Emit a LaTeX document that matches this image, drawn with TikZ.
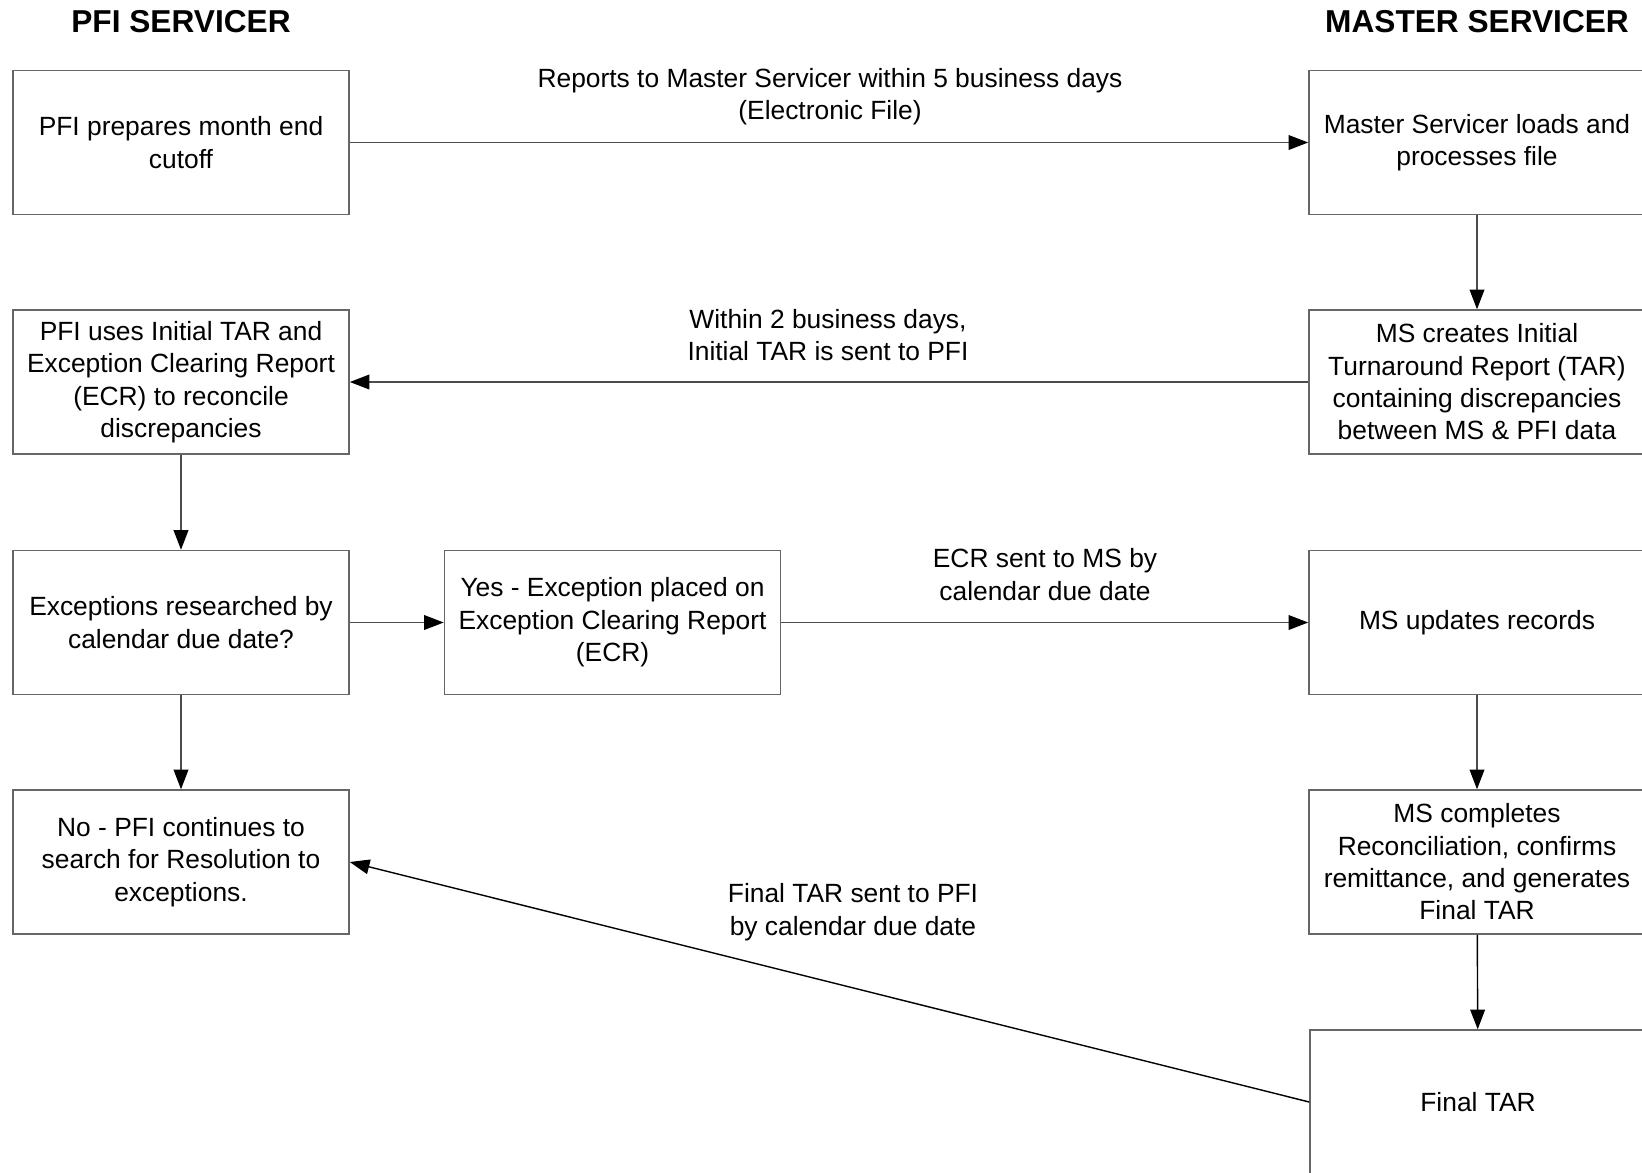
\documentclass[tikz,border=0pt]{standalone}
\usepackage{fontspec}
\setmainfont{Liberation Sans}
\usetikzlibrary{arrows.meta,positioning}

\begin{document}
\begin{tikzpicture}[x=0.01cm, y=-0.01cm,
  blk/.style={draw=black!60, line width=0.4pt, minimum width=3.36cm, minimum height=1.44cm, align=center, inner sep=0pt, font=\fontsize{7.5}{9.2}\selectfont},
  lbl/.style={align=center, font=\fontsize{7.5}{9.2}\selectfont},
  hdr/.style={font=\fontsize{9}{11}\selectfont\bfseries},
  flow/.style={-{Triangle[length=5.6pt,width=4.2pt,color=black]}, line width=0.4pt, draw=black!70}]
  \useasboundingbox (0,0) rectangle (1642,1172);
  \clip (0,0) rectangle (1642,1172);
  \node[hdr] (hpfi) at (181,22) {PFI SERVICER};
  \node[hdr] (hms) at (1477,22) {MASTER SERVICER};

  \node[blk] (p1) at (181,142.5) {PFI prepares month end\\cutoff};
  \node[blk] (p2) at (181,382) {PFI uses Initial TAR and\\Exception Clearing Report\\(ECR) to reconcile\\discrepancies};
  \node[blk] (p3) at (181,622.5) {Exceptions researched by\\calendar due date?};
  \node[blk] (p4) at (181,862) {No - PFI continues to\\search for Resolution to\\exceptions.};
  \node[blk] (yes) at (612.5,622.5) {Yes - Exception placed on\\Exception Clearing Report\\(ECR)};

  \node[blk] (m1) at (1477,142.5) {Master Servicer loads and\\processes file};
  \node[blk] (m2) at (1477,382) {MS creates Initial\\Turnaround Report (TAR)\\containing discrepancies\\between MS \& PFI data};
  \node[blk] (m3) at (1477,622.5) {MS updates records};
  \node[blk] (m4) at (1477,862) {MS completes\\Reconciliation, confirms\\remittance, and generates\\Final TAR};
  \node[blk] (m5) at (1478,1102) {Final TAR};

  \draw[flow] (p1) -- (m1);
  \draw[flow] (m1) -- (m2);
  \draw[flow] (m2) -- (p2);
  \draw[flow] (p2) -- (p3);
  \draw[flow] (p3) -- (yes);
  \draw[flow] (yes) -- (m3);
  \draw[flow] (p3) -- (p4);
  \draw[flow] (m3) -- (m4);
  \draw[flow, draw=black] (m4) -- (m5);
  \draw[flow, draw=black] (m5.west) -- (p4.east);

  \node[lbl] (l1) at (830,96.5) {Reports to Master Servicer within 5 business days\\(Electronic File)};
  \node[lbl] (l2) at (828,335) {Within 2 business days,\\Initial TAR is sent to PFI};
  \node[lbl] (l3) at (1045,574.5) {ECR sent to MS by\\calendar due date};
  \node[lbl] (l4) at (853,912) {Final TAR sent to PFI\\by calendar due date};
\end{tikzpicture}
\end{document}
